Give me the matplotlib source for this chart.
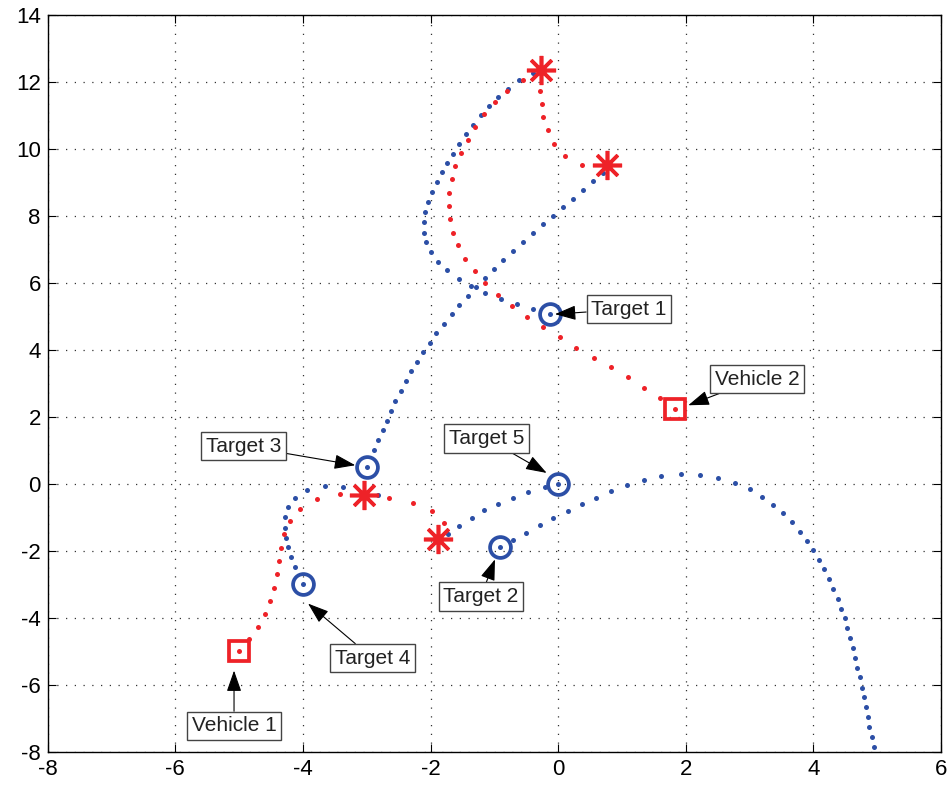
import matplotlib
matplotlib.use('Agg')
import matplotlib.pyplot as plt

plt.rcParams['font.family'] = ['Liberation Sans', 'DejaVu Sans']
plt.rcParams['axes.unicode_minus'] = False

# 目标轨迹（蓝色）
t1_x = [-0.13, -0.39, -0.65, -0.90, -1.15, -1.36, -1.56, -1.74, -1.89, -2.00, -2.07, -2.11, -2.11,
        -2.09, -2.04, -1.98, -1.90, -1.82, -1.74, -1.64, -1.55, -1.44, -1.33, -1.21, -1.09, -0.95,
        -0.79, -0.61, -0.40]
t1_y = [5.07, 5.21, 5.36, 5.51, 5.70, 5.91, 6.13, 6.38, 6.64, 6.92, 7.21, 7.50, 7.81,
        8.11, 8.41, 8.71, 9.00, 9.30, 9.58, 9.86, 10.15, 10.44, 10.73, 11.01, 11.27, 11.54,
        11.80, 12.05, 12.27]

t2_x = [-0.91, -0.70, -0.50, -0.29, -0.08, 0.15, 0.37, 0.59, 0.83, 1.08, 1.34, 1.62, 1.92, 2.22,
        2.51, 2.77, 3.00, 3.20, 3.37, 3.53, 3.67, 3.79, 3.90, 4.00, 4.09, 4.17, 4.25, 4.31, 4.38,
        4.43, 4.49, 4.53, 4.58, 4.62, 4.65, 4.69, 4.73, 4.76, 4.79, 4.82, 4.85, 4.88, 4.92, 4.95]
t2_y = [-1.88, -1.66, -1.45, -1.23, -1.01, -0.81, -0.60, -0.41, -0.21, -0.04, 0.12, 0.23, 0.29, 0.27,
        0.18, 0.03, -0.16, -0.39, -0.63, -0.88, -1.14, -1.42, -1.70, -1.98, -2.26, -2.55, -2.84, -3.13, -3.42,
        -3.72, -4.01, -4.30, -4.60, -4.90, -5.18, -5.48, -5.77, -6.08, -6.37, -6.67, -6.96, -7.25, -7.55, -7.84]

t3_x = [-3.00, -2.89, -2.82, -2.75, -2.69, -2.62, -2.55, -2.47, -2.39, -2.30, -2.21, -2.12, -2.01,
        -1.91, -1.79, -1.67, -1.55, -1.42, -1.29, -1.15, -1.00, -0.86, -0.71, -0.55, -0.40, -0.24,
        -0.08, 0.07, 0.23, 0.39, 0.55, 0.71]
t3_y = [0.51, 1.01, 1.30, 1.61, 1.89, 2.19, 2.49, 2.78, 3.07, 3.36, 3.65, 3.94, 4.22,
        4.51, 4.79, 5.07, 5.34, 5.61, 5.88, 6.16, 6.42, 6.69, 6.96, 7.22, 7.48, 7.75,
        8.00, 8.26, 8.51, 8.78, 9.04, 9.28]

t4_x = [-4.00, -4.12, -4.18, -4.23, -4.26, -4.28, -4.28, -4.24, -4.13, -3.94, -3.65, -3.37, -2.82]
t4_y = [-3.00, -2.48, -2.18, -1.88, -1.60, -1.30, -1.00, -0.70, -0.42, -0.19, -0.07, -0.09, -0.34]

t5_x = [0.00, -0.21, -0.47, -0.70, -0.94, -1.16, -1.35, -1.55, -1.72]
t5_y = [0.00, -0.09, -0.24, -0.42, -0.59, -0.79, -1.01, -1.25, -1.48]

# 车辆轨迹（红色）
v1_x = [-5.00, -4.84, -4.70, -4.59, -4.52, -4.46, -4.41, -4.38, -4.35, -4.30, -4.21, -4.05, -3.78,
        -3.42, -3.04, -2.65, -2.27, -1.97, -1.79, -1.88]
v1_y = [-5.00, -4.63, -4.28, -3.87, -3.49, -3.10, -2.70, -2.30, -1.90, -1.50, -1.10, -0.76, -0.46,
        -0.29, -0.32, -0.42, -0.57, -0.81, -1.16, -1.65]

v2_x = [1.83, 1.60, 1.35, 1.09, 0.83, 0.56, 0.28, 0.03, -0.24, -0.49, -0.73, -0.94, -1.14, -1.31,
        -1.46, -1.57, -1.65, -1.70, -1.71, -1.71, -1.67, -1.61, -1.53, -1.42, -1.30, -1.16, -0.99,
        -0.80, -0.55, -0.27, -0.28, -0.26, -0.23, -0.16, -0.06, 0.11, 0.38, 0.76]
v2_y = [2.25, 2.57, 2.88, 3.19, 3.48, 3.77, 4.07, 4.38, 4.68, 4.99, 5.31, 5.65, 6.00, 6.36,
        6.73, 7.12, 7.50, 7.90, 8.31, 8.70, 9.10, 9.49, 9.88, 10.27, 10.65, 11.03, 11.39,
        11.73, 12.06, 12.35, 11.73, 11.34, 10.95, 10.56, 10.16, 9.79, 9.51, 9.51]

# 拦截点、车辆和目标位置
hit_x = [-0.27, 0.76, -3.04, -1.88]
hit_y = [12.35, 9.51, -0.32, -1.65]
veh_x = [-5.00, 1.83]
veh_y = [-5.00, 2.25]
tgt_x = [-0.13, -0.91, -3.00, -4.00, 0.00]
tgt_y = [5.07, -1.88, 0.51, -3.00, 0.00]

labels = ['Target 1', 'Vehicle 2', 'Target 3', 'Target 5', 'Target 2', 'Target 4', 'Vehicle 1']
label_xy = [(1.11, 5.22), (3.12, 3.13), (-4.93, 1.13), (-1.12, 1.36), (-1.21, -3.36), (-2.91, -5.20), (-5.08, -7.22)]
arrow_xy = [(-0.05, 5.07), (2.04, 2.35), (-3.18, 0.56), (-0.18, 0.33), (-0.99, -2.25), (-3.92, -3.57), (-5.08, -5.57)]

blue = '#2c4fa6'
red = '#ee2228'

fig = plt.figure(figsize=(9.51, 7.89), dpi=100)
ax = fig.add_axes([0.0502, 0.0469, 0.9392, 0.9341])

for xs, ys in [(t1_x, t1_y), (t2_x, t2_y), (t3_x, t3_y), (t4_x, t4_y), (t5_x, t5_y)]:
    ax.plot(xs, ys, linestyle='none', marker='o', ms=3.6, color=blue, mec='none')
for xs, ys in [(v1_x, v1_y), (v2_x, v2_y)]:
    ax.plot(xs, ys, linestyle='none', marker='o', ms=3.6, color=red, mec='none')

ax.plot(tgt_x, tgt_y, linestyle='none', marker='o', ms=15, mfc='none', mec=blue, mew=2.7)
ax.plot(veh_x, veh_y, linestyle='none', marker='s', ms=15, mfc='none', mec=red, mew=2.7)
ax.plot(hit_x, hit_y, linestyle='none', marker=(8, 2, 0), ms=21, color=red, mew=2.6)

for txt, (lx, ly), (axx, ayy) in zip(labels, label_xy, arrow_xy):
    ax.annotate(txt, xy=(axx, ayy), xytext=(lx, ly), fontsize=15, ha='center', va='center',
                color='#222222',
                bbox=dict(boxstyle='square,pad=0.22', fc='white', ec='#444444', lw=1.0),
                arrowprops=dict(arrowstyle='-|>,head_length=1.0,head_width=0.35', color='black',
                                lw=0.8, shrinkA=0, shrinkB=0, mutation_scale=13))

ax.set_xlim(-8, 6)
ax.set_ylim(-8, 14)
ax.set_xticks(range(-8, 7, 2))
ax.set_yticks(range(-8, 15, 2))
ax.grid(True, linestyle=(0, (1, 6)), color='#333333', lw=0.9)
ax.tick_params(direction='in', length=6, top=True, right=True, labelsize=16, pad=5)
for s in ax.spines.values():
    s.set_linewidth(1.0)

plt.savefig('out.png', dpi=100)
